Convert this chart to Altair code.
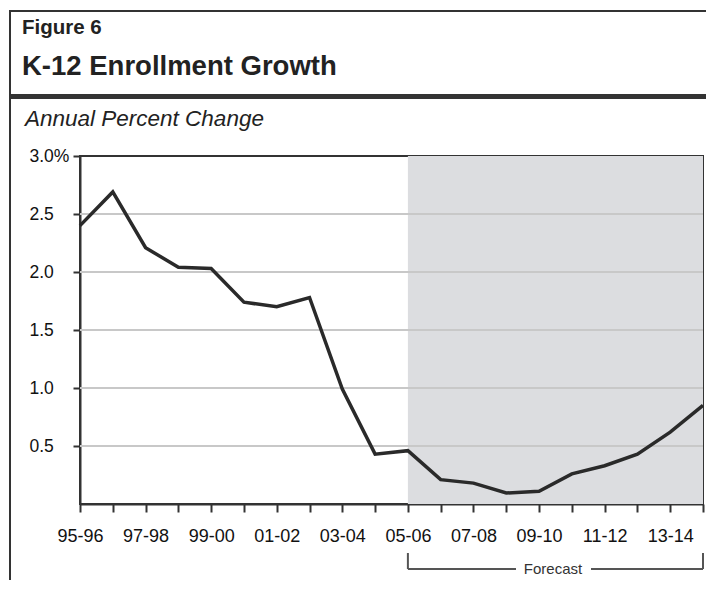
import altair as alt
import pandas as pd

# ---------------- data ----------------
SEASONS = ["95-96", "96-97", "97-98", "98-99", "99-00", "00-01", "01-02", "02-03",
           "03-04", "04-05", "05-06", "06-07", "07-08", "08-09", "09-10", "10-11",
           "11-12", "12-13", "13-14", "14-15"]
GROWTH = [2.40, 2.69, 2.21, 2.04, 2.03, 1.74, 1.70, 1.78, 0.99, 0.43,
          0.46, 0.21, 0.18, 0.095, 0.11, 0.26, 0.33, 0.43, 0.62, 0.85]
X_LABELS = ["95-96", "97-98", "99-00", "01-02", "03-04", "05-06", "07-08",
            "09-10", "11-12", "13-14"]
Y_TICKS = [0.5, 1.0, 1.5, 2.0, 2.5, 3.0]
Y_LABELS = ["0.5", "1.0", "1.5", "2.0", "2.5", "3.0%"]
FORECAST = ["05-06", "14-15"]
FIG_LABEL = "Figure 6"
TITLE = "K-12 Enrollment Growth"
SUBTITLE = "Annual Percent Change"
FORECAST_LABEL = "Forecast"

# ---------------- layout ----------------
W, H = 623, 348
PAD = {"left": 72, "top": 148, "right": 3, "bottom": 76}
FONT = "Liberation Sans"
DARK = "#333333"

df = pd.DataFrame({"idx": list(range(len(SEASONS))), "season": SEASONS, "growth": GROWTH})
shade_df = pd.DataFrame({"start": [SEASONS.index(FORECAST[0])], "end": [SEASONS.index(FORECAST[1])]})
ends_df = pd.DataFrame({"pos": [SEASONS.index(FORECAST[0]), SEASONS.index(FORECAST[1])]})
grid_df = pd.DataFrame({"v": Y_TICKS[:-1]})

x_label_arr = "[" + ",".join("'" + (s if s in X_LABELS else "") + "'" for s in SEASONS) + "]"
x_label_expr = x_label_arr + "[datum.value]"
y_expr = "''"
for v, lab in reversed(list(zip(Y_TICKS, Y_LABELS))):
    y_expr = f"abs(datum.value - {v}) < 0.001 ? '{lab}' : ({y_expr})"

x_scale = alt.Scale(domain=[0, len(SEASONS) - 1], nice=False, zero=False)
y_scale = alt.Scale(domain=[0, 3], nice=False)

x_axis = alt.Axis(values=list(range(len(SEASONS))), labelExpr=x_label_expr, title=None,
                  grid=False, tickSize=8, tickWidth=2, tickColor=DARK,
                  domainColor=DARK, domainWidth=2, labelFont=FONT, labelFontSize=18,
                  labelColor="#111111", labelPadding=15, labelAngle=0,
                  labelOverlap=False, labelFlush=False)
y_axis = alt.Axis(values=Y_TICKS, labelExpr=y_expr, title=None, grid=False,
                  tickSize=7, tickWidth=2, tickColor=DARK, domainColor=DARK,
                  domainWidth=2, labelFont=FONT, labelFontSize=17.5,
                  labelColor="#111111", labelAlign="left", labelPadding=44,
                  labelBaseline="middle", labelOverlap=False, labelFlush=False)

shade = alt.Chart(shade_df).mark_rect(color="#dcdde0").encode(
    x=alt.X("start:Q", scale=x_scale, axis=x_axis),
    x2="end:Q",
    y=alt.value(0),
    y2=alt.value(H),
)

grid = alt.Chart(grid_df).mark_rule(color="#c8c8c8", strokeWidth=1.8).encode(
    y=alt.Y("v:Q", scale=y_scale, axis=y_axis),
)

line = alt.Chart(df).mark_line(color="#2a2a2a", strokeWidth=3.5).encode(
    x=alt.X("idx:Q", scale=x_scale, axis=x_axis),
    y=alt.Y("growth:Q", scale=y_scale, axis=y_axis),
)

# forecast bracket below the axis
BR_Y = 413
bracket_h = alt.Chart(shade_df).mark_rule(color="#555555", strokeWidth=2).encode(
    x=alt.X("start:Q", scale=x_scale, axis=x_axis), x2="end:Q", y=alt.value(BR_Y))
bracket_v = alt.Chart(ends_df).mark_rule(color="#555555", strokeWidth=2).encode(
    x=alt.X("pos:Q", scale=x_scale, axis=x_axis), y=alt.value(BR_Y - 16), y2=alt.value(BR_Y))
mask = alt.Chart(shade_df).mark_rect(color="white").encode(
    x=alt.value(436), x2=alt.value(511), y=alt.value(BR_Y - 8), y2=alt.value(BR_Y + 8))
fc_text = alt.Chart(pd.DataFrame({"t": [FORECAST_LABEL]})).mark_text(
    font=FONT, fontSize=15, color="#333333", align="center", baseline="alphabetic").encode(
    x=alt.value(473), y=alt.value(BR_Y + 5), text="t:N")

# header frame and texts
def hrule(y, x1, x2, w):
    return alt.Chart(pd.DataFrame({"a": [0]})).mark_rule(color=DARK, strokeWidth=w).encode(
        x=alt.value(x1), x2=alt.value(x2), y=alt.value(y))

def vrule(x, y1, y2, w):
    return alt.Chart(pd.DataFrame({"a": [0]})).mark_rule(color=DARK, strokeWidth=w).encode(
        x=alt.value(x), y=alt.value(y1), y2=alt.value(y2))

top_border = hrule(-145, -70, 630, 2)
separator = hrule(-59.5, -70, 630, 5)
left_border = vrule(-70, -146, 424, 2)

def label(text, x, y, size, weight="normal", style="normal"):
    return alt.Chart(pd.DataFrame({"t": [text]})).mark_text(
        font=FONT, fontSize=size, fontWeight=weight, fontStyle=style, color="#222222",
        align="left", baseline="alphabetic").encode(
        x=alt.value(x), y=alt.value(y), text="t:N")

fig_text = label(FIG_LABEL, -58, -122.5, 20.5, weight="bold")
title_text = label(TITLE, -58, -81, 27.5, weight="bold")
sub_text = label(SUBTITLE, -55, -30, 22.5, style="italic")

chart = alt.layer(
    shade, grid, line, bracket_h, bracket_v, mask, fc_text,
    top_border, separator, left_border, fig_text, title_text, sub_text,
).properties(
    width=W, height=H, padding=PAD, autosize=alt.AutoSizeParams(type="none"),
    background="white",
).configure_view(stroke=DARK, strokeWidth=2)

chart.save("out.html", embed_options={"renderer": "svg", "actions": False})
